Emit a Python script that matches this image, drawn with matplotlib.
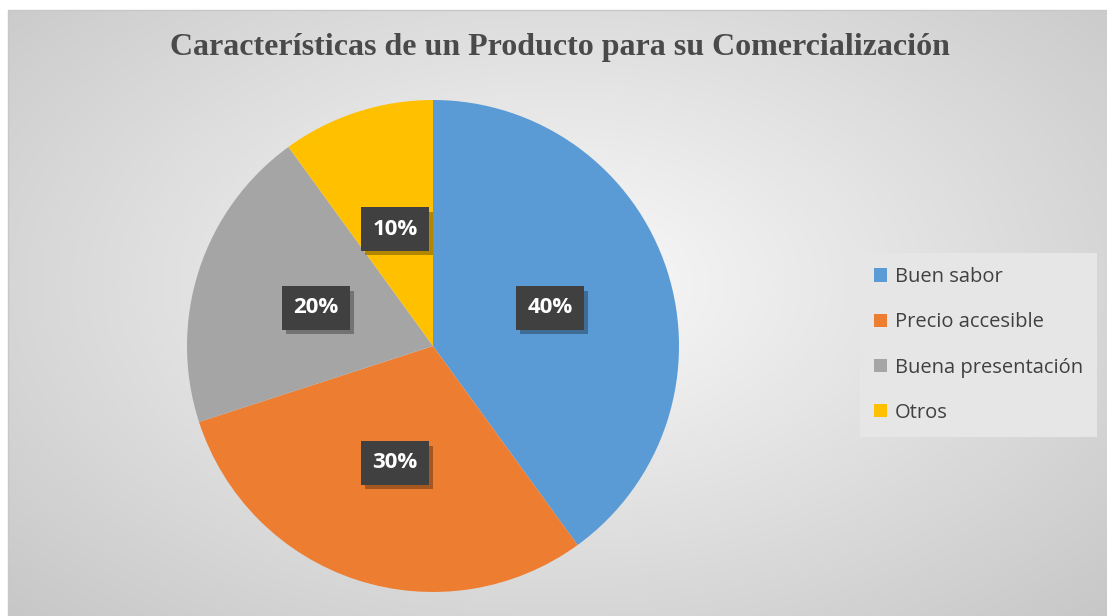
import numpy as np
import matplotlib
matplotlib.use("Agg")
import matplotlib.pyplot as plt
import matplotlib.patheffects as pe

categories = ["Buen sabor", "Precio accesible", "Buena presentación", "Otros"]
values = [40, 30, 20, 10]
colors = ["#5b9bd5", "#ed7d31", "#a5a5a5", "#ffc000"]
title = "Características de un Producto para su Comercialización"

W, H = 1107, 616
fig = plt.figure(figsize=(W / 100, H / 100), dpi=100)
fig.patch.set_facecolor("white")

# background radial gradient in chart frame
x0, y0 = 8, 10
bg = fig.add_axes([x0 / W, 0, (W - x0) / W, (H - y0) / H])
bg.set_axis_off()
ny, nx = 300, 550
yy, xx = np.mgrid[0:ny, 0:nx]
cx, cy = nx * 0.5, ny * 0.45
d = np.sqrt(((xx - cx) / (nx * 0.5)) ** 2 + ((yy - cy) / (ny * 0.55)) ** 2) / np.sqrt(2)
d = np.clip(d, 0, 1)
c = 0.98 - d * (0.98 - 0.78)
img = np.dstack([c, c, c])
bg.imshow(img, aspect="auto", extent=[0, 1, 0, 1], origin="upper", interpolation="bilinear")
bg.set_xlim(0, 1)
bg.set_ylim(0, 1)
bg.plot([0, 0, 1], [0, 1, 1], color="#c8c8c8", lw=1, transform=bg.transAxes, clip_on=False)

# pie axes: center (433,346), radius 246
r = 246
cxp, cyp = 433, 346
ax = fig.add_axes([(cxp - r) / W, (H - cyp - r) / H, 2 * r / W, 2 * r / H])
ax.set_facecolor("none")
wedges, texts, autotexts = ax.pie(
    values, colors=colors, startangle=90, counterclock=False,
    autopct=lambda p: f"{p:.0f}%", pctdistance=0.5, radius=1,
    wedgeprops=dict(linewidth=0),
    textprops=dict(color="white", fontsize=16, fontweight="bold", family="Open Sans"),
)
ax.set_xlim(-1, 1)
ax.set_ylim(-1, 1)
ax.set_aspect("auto")
for t in autotexts:
    t.set_bbox(dict(boxstyle="square,pad=0.5", facecolor="#404040", edgecolor="none"))
    t.get_bbox_patch().set_path_effects([
        pe.SimplePatchShadow(offset=(3, -3), shadow_rgbFace="black", alpha=0.3),
        pe.Normal(),
    ])

fig.text(560 / W, 1 - 47 / H, title, ha="center", va="center",
         family="Liberation Serif", fontweight="bold", fontsize=23, color="#4a4a4a")

leg = fig.legend(wedges, categories, loc="center left",
                 bbox_to_anchor=(860 / W, 1 - 345 / H),
                 frameon=True, fancybox=False, facecolor="#e6e6e6", edgecolor="none",
                 framealpha=1, prop=dict(family="Open Sans", size=14.5),
                 handlelength=0.65, handleheight=0.65, handletextpad=0.4,
                 labelspacing=1.25, borderpad=0.7, borderaxespad=0, labelcolor="#404040")

fig.savefig("out.png", dpi=100)
